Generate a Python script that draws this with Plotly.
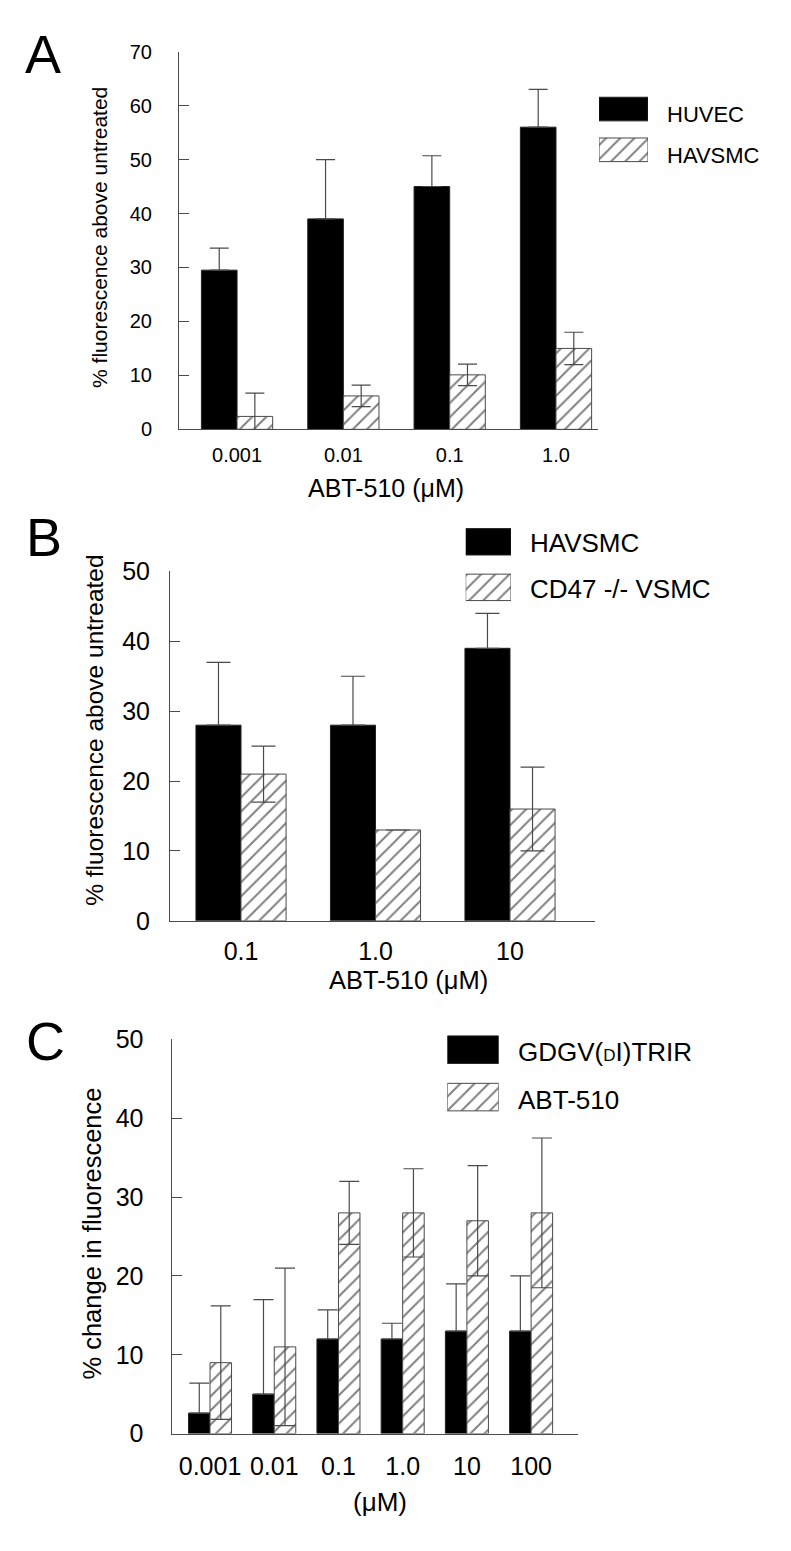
import plotly.graph_objects as go

# ---------------- data ----------------
cats_a = ["0.001", "0.01", "0.1", "1.0"]
huvec = [29.5, 39.0, 45.0, 56.0]
huvec_err = [4.1, 11.0, 5.7, 7.0]
havsmc_a = [2.4, 6.2, 10.1, 15.0]
havsmc_a_err = [4.3, 2.0, 2.0, 3.0]

cats_b = ["0.1", "1.0", "10"]
havsmc_b = [28.0, 28.0, 39.0]
havsmc_b_err = [9.0, 7.0, 5.0]
cd47 = [21.0, 13.0, 16.0]
cd47_err = [4.0, 0.0, 6.0]

cats_c = ["0.001", "0.01", "0.1", "1.0", "10", "100"]
gdgv = [2.6, 5.0, 12.0, 12.0, 13.0, 13.0]
gdgv_err = [3.8, 12.0, 3.7, 2.0, 6.0, 7.0]
abt = [9.0, 11.0, 28.0, 28.0, 27.0, 28.0]
abt_err = [7.2, 10.0, 4.0, 5.6, 7.0, 9.5]

legend_a = ["HUVEC", "HAVSMC"]
legend_b = ["HAVSMC", "CD47 -/- VSMC"]
legend_c = ["GDGV(<span style='font-size:17px'>D</span>I)TRIR", "ABT-510"]

# ---------------- helpers ----------------
W, H = 791, 1551
FONT = "Arial, Liberation Sans, Helvetica, sans-serif"
GRAY = "#4a4a4a"


def fx(px):
    return px / W


def fy(py):
    return 1 - py / H


HATCH = dict(shape="/", fgcolor="black", bgcolor="white", size=10, solidity=0.2)

fig = go.Figure()


def add_pair(xa, ya, cats, v1, e1, v2, e2, capw):
    fig.add_trace(go.Bar(
        x=cats, y=v1, xaxis=xa, yaxis=ya, showlegend=False,
        marker=dict(color="black", line=dict(color="#222222", width=1)),
        error_y=dict(type="data", array=e1, arrayminus=[0] * len(e1), symmetric=False,
                     color=GRAY, thickness=1.2, width=capw),
    ))
    fig.add_trace(go.Bar(
        x=cats, y=v2, xaxis=xa, yaxis=ya, showlegend=False,
        marker=dict(color="white", pattern=HATCH, line=dict(color=GRAY, width=1)),
        error_y=dict(type="data", array=e2, visible=True,
                     color=GRAY, thickness=1.2, width=capw),
    ))


add_pair("x", "y", cats_a, huvec, huvec_err, havsmc_a, havsmc_a_err, 9.5)
add_pair("x2", "y2", cats_b, havsmc_b, havsmc_b_err, cd47, cd47_err, 12)
add_pair("x3", "y3", cats_c, gdgv, gdgv_err, abt, abt_err, 10)


def add_legend(xa, ya, names):
    w = 0.58
    fig.add_trace(go.Bar(
        x=[1], y=[0], orientation="h", width=w, offset=-w / 2, xaxis=xa, yaxis=ya,
        showlegend=False, hoverinfo="skip", name=names[0],
        marker=dict(color="black", line=dict(color="#222222", width=1)),
    ))
    fig.add_trace(go.Bar(
        x=[1], y=[1], orientation="h", width=w, offset=-w / 2, xaxis=xa, yaxis=ya,
        showlegend=False, hoverinfo="skip", name=names[1],
        marker=dict(color="white", pattern=HATCH, line=dict(color=GRAY, width=1)),
    ))


add_legend("x4", "y4", legend_a)
add_legend("x5", "y5", legend_b)
add_legend("x6", "y6", legend_c)

# ---------------- axes ----------------
def xaxis(l, r, rng, anchor, fs, standoff):
    return dict(domain=[fx(l), fx(r)], range=rng, anchor=anchor, type="category",
                showline=True, linecolor=GRAY, linewidth=1, ticks="",
                showgrid=False, zeroline=False,
                tickfont=dict(family=FONT, size=fs, color="black"),
                ticklabelstandoff=standoff)


def yaxis(top, bottom, rng, dtick, anchor, fs, standoff):
    return dict(domain=[fy(bottom), fy(top)], range=rng, anchor=anchor,
                showline=True, linecolor=GRAY, linewidth=1, ticks="inside",
                ticklen=10, tickcolor=GRAY, tickwidth=1, dtick=dtick,
                showgrid=False, zeroline=False,
                tickfont=dict(family=FONT, size=fs, color="black"),
                ticklabelstandoff=standoff)


def legaxes(l, r, c0, c1):
    sp = c1 - c0
    return (dict(domain=[fx(l), fx(r)], range=[0, 1], visible=False, fixedrange=True),
            dict(domain=[fy(c1 + sp / 2), fy(c0 - sp / 2)], range=[1.5, -0.5], visible=False, fixedrange=True))


lx4, ly4 = legaxes(599, 648, 96.8, 138.3)
lx5, ly5 = legaxes(465.7, 511, 537.5, 583.9)
lx6, ly6 = legaxes(447.3, 498.7, 1054.7, 1103)
lx4["anchor"] = "y4"; lx5["anchor"] = "y5"; lx6["anchor"] = "y6"
ly4["anchor"] = "x4"; ly5["anchor"] = "x5"; ly6["anchor"] = "x6"

fig.update_layout(
    width=W, height=H, margin=dict(l=0, r=0, t=0, b=0),
    paper_bgcolor="white", plot_bgcolor="white",
    barmode="group", bargap=0.33, bargroupgap=0,
    font=dict(family=FONT, color="black"),
    xaxis=xaxis(179, 598, [-0.546, 3.395], "y", 20, 8),
    yaxis=yaxis(38.3, 423, [0, 70], 10, "x", 20, 22),
    xaxis2=xaxis(170, 595, [-0.528, 2.632], "y2", 25, 8),
    yaxis2=yaxis(567.7, 923.5, [0, 50], 10, "x2", 25, 14),
    xaxis3=xaxis(171.5, 578, [-0.6, 5.73], "y3", 25, 10),
    yaxis3=yaxis(1044.3, 1445.7, [0, 50], 10, "x3", 25, 22),
    xaxis4=lx4, yaxis4=ly4, xaxis5=lx5, yaxis5=ly5, xaxis6=lx6, yaxis6=ly6,
)

# ---------------- text ----------------
def ann(text, x, y, size, xanchor="center", angle=0):
    fig.add_annotation(text=text, x=fx(x), y=fy(y), xref="paper", yref="paper",
                       xanchor=xanchor, yanchor="middle", showarrow=False,
                       textangle=angle, font=dict(family=FONT, size=size, color="black"))


# panel letters
ann("A", 43, 41, 54)
ann("B", 44, 532.5, 54)
ann("C", 45.5, 1046, 54)

# axis titles
ann("% fluorescence above untreated", 100, 227, 21, angle=-90)
ann("ABT-510 (μM)", 386, 482.5, 25)
ann("% fluorescence above untreated", 95, 730, 24.5, angle=-90)
ann("ABT-510 (μM)", 409, 984, 25.5)
ann("% change in fluorescence", 92, 1242, 25.5, angle=-90)
ann("(μM)", 379.5, 1515, 26)

# legend labels
ann(legend_a[0], 665, 102, 22, xanchor="left")
ann(legend_a[1], 665, 144, 22, xanchor="left")
ann(legend_b[0], 527.7, 539, 26, xanchor="left")
ann(legend_b[1], 527.7, 585.5, 26, xanchor="left")
ann(legend_c[0], 516, 1057, 26, xanchor="left")
ann(legend_c[1], 516, 1105.5, 26, xanchor="left")

fig.write_html(
    "out.html",
    config={"displayModeBar": False},
    post_script="document.body.style.margin='0';document.body.style.overflow='hidden';",
)
